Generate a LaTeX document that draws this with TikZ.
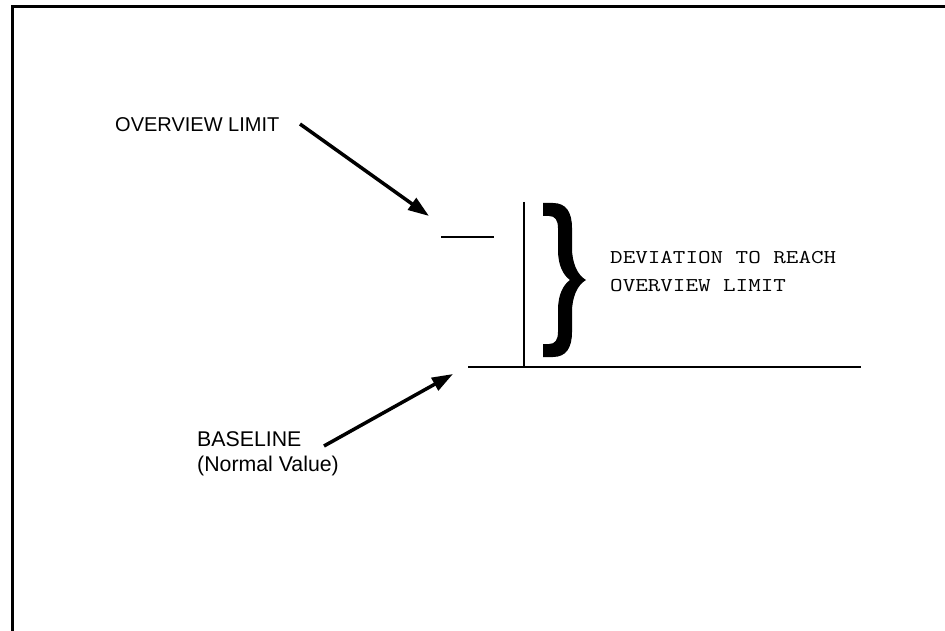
\documentclass[tikz,border=0pt]{standalone}
\usepackage{fontspec}
\setmainfont{Liberation Sans}
\newfontfamily\monofnt{Latin Modern Mono}[FakeStretch=1.25]
\usetikzlibrary{arrows.meta}
\tikzset{
  lbl/.style={anchor=base west, inner sep=0pt, font=\fontsize{20}{25}\selectfont},
  lblb/.style={anchor=base west, inner sep=0pt, font=\fontsize{21.3}{25}\selectfont},
  mono/.style={anchor=base west, inner sep=0pt, font=\monofnt\fontsize{19.5}{28}\selectfont},
  pointer/.style={line width=3.5pt, -{Triangle[length=21pt, width=14pt]}},
  thinline/.style={line width=2.2pt},
}
\begin{document}
\begin{tikzpicture}[x=1pt, y=-1pt]
\useasboundingbox (0,0) rectangle (945,631);
% frame
\draw[line width=3pt] (12.5,640) -- (12.5,7) -- (950,7);
% texts
\node[lbl] (ovl) at (115,132) {OVERVIEW LIMIT};
\node[lblb] (bas) at (197,446) {BASELINE};
\node[lblb] (nrm) at (197,471) {(Normal Value)};
\node[mono] (dev1) at (610,263.5) {DEVIATION TO REACH};
\node[mono] (dev2) at (610,291.5) {OVERVIEW LIMIT};
% lines
\coordinate (dashL) at (441,237);
\coordinate (dashR) at (494,237);
\draw[thinline] (dashL) -- (dashR);
\coordinate (vtop) at (524,202);
\coordinate (vbot) at (524,367);
\draw[thinline] (vtop) -- (vbot);
\coordinate (baseL) at (468,367);
\coordinate (baseR) at (861,367);
\draw[thinline] (baseL) -- (baseR);
% brace
\fill (543,203) -- (553,203) .. controls (566,203) and (572,212) .. (572,228)
  -- (572,248) .. controls (572,262) and (577,275) .. (586,280)
  .. controls (577,285) and (572,298) .. (572,312)
  -- (572,332) .. controls (572,348) and (566,357) .. (553,357)
  -- (543,357) -- (543,344) -- (549,344)
  .. controls (555,344) and (558,340) .. (558,332)
  -- (558,310) .. controls (558,295) and (563,285) .. (570,280)
  .. controls (563,275) and (558,265) .. (558,250)
  -- (558,228) .. controls (558,220) and (555,216) .. (549,216)
  -- (543,216) -- cycle;
% arrows
\coordinate (tip1) at (429,216);
\coordinate (tip2) at (453,374);
\draw[pointer] (300,124) coordinate (s1) -- (tip1);
\draw[pointer] (324,446) coordinate (s2) -- (tip2);
\end{tikzpicture}
\end{document}
